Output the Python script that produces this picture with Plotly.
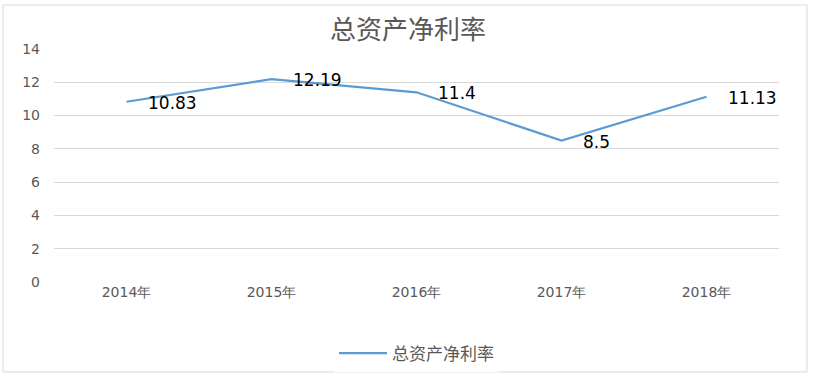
import plotly.graph_objects as go

categories = ["2014年", "2015年", "2016年", "2017年", "2018年"]
values = [10.83, 12.19, 11.4, 8.5, 11.13]
labels = ["10.83", "12.19", "11.4", "8.5", "11.13"]
series_name = "总资产净利率"
title_text = "总资产净利率"

fig = go.Figure()
fig.add_trace(go.Scatter(
    x=categories, y=values, mode="lines", name=series_name,
    line=dict(color="#5B9BD5", width=2.25),
))

for c, v, t in zip(categories, values, labels):
    fig.add_annotation(x=c, y=v, text=t, showarrow=False, xanchor="left",
                       yanchor="middle", xshift=19, yshift=-1,
                       font=dict(family="DejaVu Sans, Verdana", size=17, color="#000000"))

fig.update_layout(
    width=816, height=382,
    margin=dict(l=54, r=37, t=49, b=100, autoexpand=False),
    paper_bgcolor="white", plot_bgcolor="white",
    title=dict(text=title_text, x=0.5, xanchor="center", y=0.922, yanchor="middle",
               automargin=False,
               font=dict(family="Noto Sans CJK SC", size=26, color="#595959")),
    showlegend=True,
    legend=dict(orientation="h", x=0.5, xanchor="center", y=-0.23, yanchor="top",
                font=dict(family="Noto Sans CJK SC", size=17, color="#595959"),
                itemwidth=48),
    shapes=[dict(type="rect", xref="paper", yref="paper", x0=-0.0703, x1=1.0386,
                 y0=-0.386, y1=1.189, line=dict(color="#D9D9D9", width=1))],
)
fig.update_xaxes(type="category", range=[-0.5, 4.5], showgrid=False, showline=False,
                 ticks="", zeroline=False, automargin=False,
                 tickfont=dict(family="DejaVu Sans, Verdana", size=14, color="#595959"))
fig.update_yaxes(range=[0, 14], dtick=2, showgrid=True, gridcolor="#D9D9D9",
                 gridwidth=1, zeroline=False, showline=False, ticks="",
                 ticklabelstandoff=13, automargin=False,
                 tickfont=dict(family="DejaVu Sans, Verdana", size=14, color="#595959"))

fig.write_html("out.html", config={"displayModeBar": False},
               post_script="document.body.style.margin='0';")
